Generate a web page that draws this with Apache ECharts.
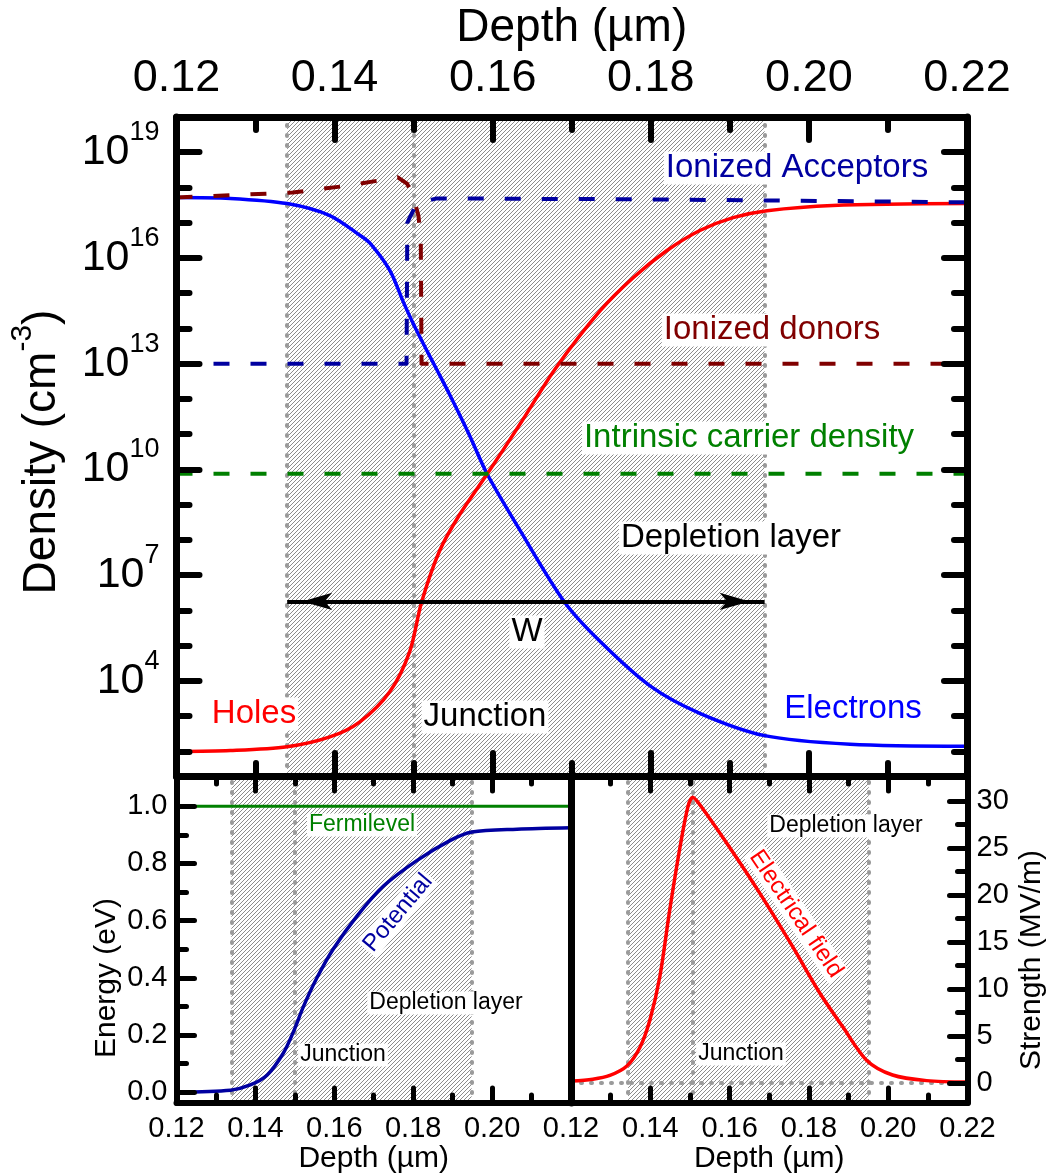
<!DOCTYPE html>
<html>
<head>
<meta charset="utf-8">
<script src="https://cdn.jsdelivr.net/npm/echarts@6/dist/echarts.min.js"></script>
<style>html,body{margin:0;padding:0;background:#fff}#c{width:1054px;height:1175px}</style>
</head>
<body>
<div id="c"></div>
<script>
const FONT = "'Liberation Sans', Arial, Helvetica, sans-serif";

// ---------- Top panel: densities (cm^-3) vs depth (µm) ----------
const electronDepth   = [0.1200, 0.1268, 0.1340, 0.1394, 0.1432, 0.1445, 0.1470, 0.1487, 0.1500, 0.1515, 0.1530, 0.1545, 0.1570, 0.1593, 0.1635, 0.1691, 0.1736, 0.1799, 0.1862, 0.1944, 0.2052, 0.2200];
const electronDensity = [5.2e17, 4.9e17, 3.5e17, 1.6e17, 4.4e16, 2.6e16, 4.4e15, 5.6e14, 1.3e14, 2.8e13, 6.3e12, 1.4e12, 1.0e11, 7.4e9, 1.8e8, 1.7e6, 1.3e5, 7.2e3, 1.2e3, 2.8e2, 1.6e2, 1.4e2];

const holeDepth   = [0.1200, 0.1268, 0.1340, 0.1394, 0.1432, 0.1470, 0.1495, 0.1510, 0.1533, 0.1559, 0.1593, 0.1635, 0.1679, 0.1736, 0.1778, 0.1820, 0.1862, 0.1904, 0.1947, 0.2030, 0.2200];
const holeDensity = [98, 105, 135, 257, 690, 5.0e3, 6.8e4, 1.7e6, 5.0e7, 5.6e8, 7.4e9, 2.0e11, 7.1e12, 3.2e14, 2.8e15, 1.6e16, 6.0e16, 1.4e17, 2.2e17, 3.1e17, 3.5e17];

const donorDepth   = [0.1200, 0.1347, 0.1420, 0.1480, 0.1492, 0.1500, 0.1506, 0.1509, 0.1510, 0.2200];
const donorDensity = [5.2e17, 7.2e17, 1.15e18, 1.95e18, 1.26e18, 5.0e17, 1.6e17, 4.0e16, 1.0e13, 1.0e13];

const acceptorDepth   = [0.1200, 0.1491, 0.1492, 0.1495, 0.1504, 0.1529, 0.1800, 0.2200];
const acceptorDensity = [1.0e13, 1.0e13, 1.0e17, 1.4e17, 3.5e17, 4.9e17, 4.6e17, 3.8e17];

const intrinsicDepth   = [0.12, 0.22];
const intrinsicDensity = [7.5e9, 7.5e9];

const topDepletion = [0.1340, 0.1944];
const topJunction = 0.1500;
const arrowLevel = 1.8e6;

const decadeMajor = [1e4, 1e7, 1e10, 1e13, 1e16, 1e19];
const decadeMinor = [1e2, 1e3, 1e5, 1e6, 1e8, 1e9, 1e11, 1e12, 1e14, 1e15, 1e17, 1e18];

// ---------- Bottom left: energy (eV) ----------
const potentialDepth  = [0.1200, 0.1337, 0.1387, 0.1430, 0.1471, 0.1496, 0.1522, 0.1556, 0.1597, 0.1657, 0.1724, 0.1809, 0.1893, 0.1949, 0.2063, 0.2200];
const potentialEnergy = [0.000, 0.007, 0.025, 0.060, 0.137, 0.210, 0.300, 0.400, 0.500, 0.615, 0.720, 0.810, 0.880, 0.910, 0.920, 0.925];
const fermiDepth  = [0.12, 0.22];
const fermiEnergy = [1.0, 1.0];
const leftDepletion = [0.1339, 0.1948];
const leftJunction = 0.1499;
const energyMajor = [0.0, 0.2, 0.4, 0.6, 0.8, 1.0];
const energyMinor = [0.1, 0.3, 0.5, 0.7, 0.9];

// ---------- Bottom right: field strength (MV/m) ----------
const fieldDepth    = [0.1200, 0.1255, 0.1298, 0.1341, 0.1374, 0.1399, 0.1424, 0.1449, 0.1475, 0.1495, 0.1507, 0.1525, 0.1593, 0.1676, 0.1759, 0.1827, 0.1885, 0.1946, 0.2011, 0.2097, 0.2200];
const fieldStrength = [0.2, 0.4, 0.8, 1.8, 3.8, 6.7, 11.3, 18.4, 25.1, 29.4, 30.4, 29.6, 25.5, 20.2, 14.5, 9.6, 6.0, 2.4, 0.85, 0.25, 0.1];
const rightDepletion = [0.1344, 0.1951];
const rightJunction = 0.1506;
const strengthMajor = [0, 5, 10, 15, 20, 25, 30];
const strengthMinor = [2.5, 7.5, 12.5, 17.5, 22.5, 27.5];

const depthMin = 0.12, depthMax = 0.22, depthStep = 0.02;

// ---------- helpers ----------
function zip(xs, ys) { return xs.map((x, i) => [x, ys[i]]); }
function hatchCanvas(size, color, lw) {
  const c = document.createElement('canvas');
  c.width = size; c.height = size;
  const g = c.getContext('2d');
  g.strokeStyle = color; g.lineWidth = lw;
  g.beginPath();
  for (let k = -1; k <= 1; k++) { g.moveTo(k * size, size); g.lineTo(k * size + size, 0); }
  g.stroke();
  return c;
}
const hatch = { image: hatchCanvas(4, '#8c8c8c', 1.0), repeat: 'repeat' };
const dotted = { color: '#9a9a9a', width: 4, type: [1, 9], cap: 'round' };

function xAxisCfg(grid, pos, opts) {
  return Object.assign({
    type: 'value', gridIndex: grid, position: pos, min: depthMin, max: depthMax, interval: depthStep,
    z: 10,
    axisLine: { show: true, onZero: false, lineStyle: { color: '#000', width: opts.lw, cap: 'round' } },
    axisTick: { show: true, inside: true, length: opts.major, lineStyle: { color: '#000', width: opts.tw, cap: 'round' } },
    minorTick: { show: true, splitNumber: 2, length: opts.minor, lineStyle: { color: '#000', width: opts.tw, cap: 'round' } },
    splitLine: { show: false }, minorSplitLine: { show: false },
    axisLabel: { show: false }
  }, opts.extra || {});
}
function yAxisCfg(grid, pos, type, min, max, ticks, len, tw, lineShow, lw, label) {
  return {
    type: type, gridIndex: grid, position: pos, min: min, max: max, z: 10,
    axisLine: { show: lineShow, onZero: false, lineStyle: { color: '#000', width: lw, cap: 'round' } },
    axisTick: { show: true, inside: true, length: len, customValues: ticks, lineStyle: { color: '#000', width: tw, cap: 'round' } },
    minorTick: { show: false }, splitLine: { show: false },
    axisLabel: label ? Object.assign({ show: true, customValues: ticks }, label) : { show: false }
  };
}

const supLabel = v => {
  const e = v >= 50 ? Math.round(Math.log10(v)) : Math.round(v);
  return '{b|10}{s|' + e + '}';
};
const supRich = {
  b: { fontSize: 43, fontFamily: FONT, color: '#000', lineHeight: 66 },
  s: { fontSize: 27, fontFamily: FONT, color: '#000', verticalAlign: 'top' }
};

function txt(text, x, y, color, size, rot, bg) {
  return {
    type: 'text', x: x, y: y, rotation: (rot || 0) * Math.PI / 180, z: 100, silent: true,
    style: {
      text: text, fill: color, font: size + 'px ' + FONT, fontSize: size, fontFamily: FONT,
      align: 'center', verticalAlign: 'middle', textAlign: 'center', textVerticalAlign: 'middle',
      backgroundColor: bg === false ? null : '#ffffff', padding: [0, 2, 0, 2]
    }
  };
}
function titleTxt(text, x, y, size, rot, rich) {
  return {
    type: 'text', x: x, y: y, rotation: (rot || 0) * Math.PI / 180, z: 100, silent: true,
    style: {
      text: text, fill: '#000', font: size + 'px ' + FONT, fontSize: size, fontFamily: FONT,
      align: 'center', verticalAlign: 'middle', textAlign: 'center', textVerticalAlign: 'middle',
      lineHeight: rich ? Math.round(size * 1.5) : size, rich: rich || undefined
    }
  };
}

function lineS(name, data, color, width, type, xi, yi, z) {
  const solid = type === 'solid';
  return {
    name: name, type: 'line', xAxisIndex: xi, yAxisIndex: yi, data: data,
    showSymbol: false, symbol: 'none', smooth: solid ? 0.3 : false,
    z: z || 3, silent: true, animation: false,
    lineStyle: { color: color, width: width, type: type, cap: solid ? 'round' : 'butt', join: 'round' }
  };
}
function hatchS(xi, yi, dep, junction, extraLines) {
  const lines = [{ xAxis: dep[0] }, { xAxis: junction }, { xAxis: dep[1] }].concat(extraLines || []);
  return {
    type: 'line', xAxisIndex: xi, yAxisIndex: yi, data: [], silent: true, animation: false, z: 1,
    markArea: { silent: true, z: 1, itemStyle: { color: hatch, borderWidth: 0 }, label: { show: false },
      data: [[{ xAxis: dep[0] }, { xAxis: dep[1] }]] },
    markLine: { silent: true, z: 2, precision: 6, symbol: ['none', 'none'], label: { show: false },
      lineStyle: dotted, emphasis: { disabled: true }, data: lines }
  };
}

const chart = echarts.init(document.getElementById('c'), null, { renderer: 'canvas' });
const option = {
  animation: false,
  backgroundColor: '#ffffff',
  textStyle: { fontFamily: FONT },
  grid: [
    { left: 176.5, top: 117, width: 790.5, height: 659, outerBoundsMode: 'none' },
    { left: 176.5, top: 776, width: 394.5, height: 327, outerBoundsMode: 'none' },
    { left: 571, top: 776, width: 396.5, height: 327, outerBoundsMode: 'none' }
  ],
  xAxis: [
    xAxisCfg(0, 'top', { lw: 7, tw: 6, major: 23, minor: 13, extra: {
      name: 'Depth (µm)', nameLocation: 'middle', nameGap: 56,
      nameTextStyle: { fontSize: 46, fontFamily: FONT, color: '#000' },
      axisLabel: { show: true, fontSize: 45, fontFamily: FONT, color: '#000', margin: 16, formatter: v => v.toFixed(2) } } }),
    xAxisCfg(0, 'bottom', { lw: 7, tw: 6, major: 23, minor: 13 }),
    xAxisCfg(1, 'bottom', { lw: 6, tw: 5, major: 15, minor: 8, extra: {
      name: 'Depth (µm)', nameLocation: 'middle', nameGap: 34,
      nameTextStyle: { fontSize: 30, fontFamily: FONT, color: '#000' },
      axisLabel: { show: true, fontSize: 29, fontFamily: FONT, color: '#000', margin: 11,
        formatter: v => (Math.abs(v - depthMax) < 1e-6 ? '' : v.toFixed(2)) } } }),
    xAxisCfg(1, 'top', { lw: 7, tw: 5, major: 15, minor: 8 }),
    xAxisCfg(2, 'bottom', { lw: 6, tw: 5, major: 15, minor: 8, extra: {
      name: 'Depth (µm)', nameLocation: 'middle', nameGap: 34,
      nameTextStyle: { fontSize: 30, fontFamily: FONT, color: '#000' },
      axisLabel: { show: true, fontSize: 29, fontFamily: FONT, color: '#000', margin: 11, formatter: v => v.toFixed(2) } } }),
    xAxisCfg(2, 'top', { lw: 7, tw: 5, major: 15, minor: 8 })
  ],
  yAxis: [
    yAxisCfg(0, 'left', 'log', 20, 1e20, decadeMajor, 23, 6, true, 7,
      { margin: 17, formatter: supLabel, rich: supRich }),
    yAxisCfg(0, 'left', 'log', 20, 1e20, decadeMinor, 13, 6, false, 7, null),
    yAxisCfg(0, 'right', 'log', 20, 1e20, decadeMajor, 23, 6, true, 7, null),
    yAxisCfg(0, 'right', 'log', 20, 1e20, decadeMinor, 13, 6, false, 7, null),
    yAxisCfg(1, 'left', 'value', -0.038, 1.106, energyMajor, 18, 5, true, 6,
      { margin: 9, fontSize: 29, fontFamily: FONT, color: '#000', formatter: v => v.toFixed(1) }),
    yAxisCfg(1, 'left', 'value', -0.038, 1.106, energyMinor, 10, 5, false, 6, null),
    yAxisCfg(2, 'right', 'value', -2.13, 32.66, strengthMajor, 18, 5, true, 6,
      { margin: 9, fontSize: 29, fontFamily: FONT, color: '#000', formatter: v => String(Math.round(v)) }),
    yAxisCfg(2, 'right', 'value', -2.13, 32.66, strengthMinor, 10, 5, false, 6, null),
    Object.assign(yAxisCfg(2, 'left', 'value', -2.13, 32.66, [], 0, 5, true, 7, null), { axisTick: { show: false } })
  ],
  series: [
    hatchS(0, 0, topDepletion, topJunction),
    lineS('Electrons', zip(electronDepth, electronDensity), '#0000ff', 3.5, 'solid', 0, 0, 3),
    lineS('Holes', zip(holeDepth, holeDensity), '#ff0000', 3.5, 'solid', 0, 0, 3),
    lineS('Ionized donors', zip(donorDepth, donorDensity), '#800000', 4, [16, 21], 0, 0, 4),
    lineS('Ionized Acceptors', zip(acceptorDepth, acceptorDensity), '#0000a0', 4, [16, 21], 0, 0, 4),
    lineS('Intrinsic carrier density', zip(intrinsicDepth, intrinsicDensity), '#008000', 4, [16, 21], 0, 0, 4),
    {
      type: 'line', xAxisIndex: 0, yAxisIndex: 0, data: [], silent: true, z: 5, animation: false,
      markLine: {
        silent: true, z: 6, precision: 6, symbol: ['arrow', 'arrow'], symbolSize: [13, 30],
        symbolOffset: [[0, '50%'], [0, '50%']], label: { show: false },
        lineStyle: { color: '#000', width: 4, type: 'solid' }, emphasis: { disabled: true },
        data: [[{ coord: [topDepletion[0], arrowLevel] }, { coord: [topDepletion[1], arrowLevel] }]]
      }
    },
    hatchS(2, 4, leftDepletion, leftJunction),
    lineS('Fermilevel', zip(fermiDepth, fermiEnergy), '#008000', 3, 'solid', 2, 4, 3),
    lineS('Potential', zip(potentialDepth, potentialEnergy), '#0000a0', 3.5, 'solid', 2, 4, 3),
    hatchS(4, 6, rightDepletion, rightJunction, [{ yAxis: 0 }]),
    lineS('Electrical field', zip(fieldDepth, fieldStrength), '#ff0000', 3.5, 'solid', 4, 6, 3)
  ],
  graphic: [
    titleTxt('Density (cm{s|-3})', 42, 452, 46, 90, { s: { fontSize: 30, fontFamily: FONT, fill: '#000', color: '#000', verticalAlign: 'top' } }),
    titleTxt('Energy (eV)', 107, 978, 30, 90),
    titleTxt('Strength (MV/m)', 1032, 960, 30, 90),
    txt('Ionized Acceptors', 797, 168, '#0000a0', 33),
    txt('Ionized donors', 772, 330, '#800000', 33),
    txt('Intrinsic carrier density', 749, 438, '#008000', 33),
    txt('Depletion layer', 731, 538, '#000000', 33),
    txt('W', 527, 632, '#000000', 33),
    txt('Holes', 254, 714, '#ff0000', 33),
    txt('Junction', 485, 717, '#000000', 33),
    txt('Electrons', 853, 709, '#0000ff', 33),
    txt('Fermilevel', 362, 825, '#008000', 23),
    txt('Potential', 398, 913, '#0000a0', 24, 50),
    txt('Depletion layer', 446, 1003, '#000000', 23),
    txt('Junction', 343, 1055, '#000000', 23),
    txt('Depletion layer', 846, 826, '#000000', 23),
    txt('Electrical field', 796, 914, '#ff0000', 24, -56),
    txt('Junction', 741, 1054, '#000000', 23)
  ]
};
chart.setOption(option);
</script>
</body>
</html>
